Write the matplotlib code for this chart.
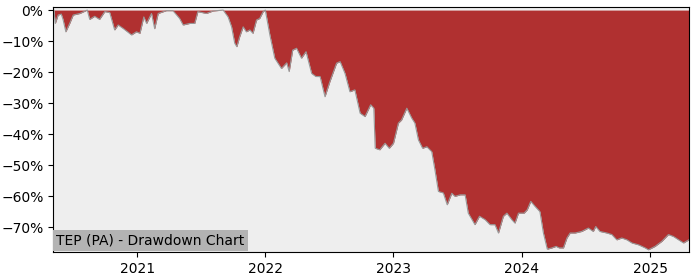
import matplotlib
matplotlib.use("Agg")
from matplotlib import pyplot as plt
from matplotlib.ticker import PercentFormatter
import matplotlib.dates as mdates
import numpy as np
import pandas as pd

# Drawdown (in %)
dates = [
    "2020-05-07", "2020-05-09", "2020-05-13", "2020-05-21", "2020-05-30", "2020-06-04",
    "2020-06-12", "2020-06-23", "2020-07-03", "2020-07-22", "2020-08-12", "2020-08-19",
    "2020-09-02", "2020-09-16", "2020-10-01", "2020-10-15", "2020-10-29", "2020-11-08",
    "2020-11-22", "2020-12-16", "2020-12-30", "2021-01-09", "2021-01-20", "2021-01-28",
    "2021-02-11", "2021-02-20", "2021-03-02", "2021-03-25", "2021-04-13", "2021-05-02",
    "2021-05-12", "2021-05-31", "2021-06-14", "2021-06-23", "2021-07-17", "2021-08-05",
    "2021-09-03", "2021-09-17", "2021-09-27", "2021-10-06", "2021-10-12", "2021-10-20",
    "2021-10-30", "2021-11-08", "2021-11-18", "2021-11-27", "2021-12-07", "2021-12-16",
    "2021-12-26", "2022-01-01", "2022-01-14", "2022-01-28", "2022-02-16", "2022-03-03",
    "2022-03-10", "2022-03-20", "2022-03-31", "2022-04-14", "2022-04-27", "2022-05-13",
    "2022-05-25", "2022-06-06", "2022-06-20", "2022-07-04", "2022-07-23", "2022-08-02",
    "2022-08-16", "2022-08-30", "2022-09-13", "2022-09-28", "2022-10-12", "2022-10-28",
    "2022-11-06", "2022-11-10", "2022-11-23", "2022-12-08", "2022-12-20", "2023-01-01",
    "2023-01-15", "2023-01-24", "2023-02-08", "2023-02-22", "2023-03-03", "2023-03-13",
    "2023-03-25", "2023-04-06", "2023-04-20", "2023-04-29", "2023-05-09", "2023-05-23",
    "2023-06-03", "2023-06-16", "2023-06-25", "2023-07-10", "2023-07-24", "2023-08-02",
    "2023-08-21", "2023-09-03", "2023-09-19", "2023-10-03", "2023-10-17", "2023-10-27",
    "2023-11-10", "2023-11-20", "2023-12-04", "2023-12-13", "2023-12-23", "2024-01-08",
    "2024-01-17", "2024-01-27", "2024-02-08", "2024-02-22", "2024-03-03", "2024-03-14",
    "2024-03-27", "2024-04-08", "2024-04-17", "2024-04-29", "2024-05-09", "2024-05-18",
    "2024-06-01", "2024-06-20", "2024-07-09", "2024-07-23", "2024-07-30", "2024-08-11",
    "2024-08-31", "2024-09-14", "2024-09-28", "2024-10-12", "2024-10-27", "2024-11-10",
    "2024-11-29", "2024-12-18", "2024-12-27", "2025-01-15", "2025-02-03", "2025-02-22",
    "2025-03-08", "2025-03-23", "2025-04-06", "2025-04-21",
]
drawdown = [
    0.0, 0.0, -4.3, -1.6, -1.3, -3.0,
    -7.0, -4.3, -1.6, -1.1, 0.0, -3.0,
    -2.0, -3.0, -0.5, -0.8, -6.4, -4.8,
    -5.9, -8.0, -7.0, -7.5, -2.2, -4.3,
    -1.1, -6.0, -1.1, -0.2, -0.2, -2.7,
    -4.8, -4.3, -4.3, -0.5, -1.1, -0.3,
    0.0, -2.2, -5.4, -10.7, -11.8, -8.6,
    -5.4, -7.0, -6.4, -7.5, -3.2, -2.7,
    -0.5, 0.0, -8.0, -15.5, -18.8, -17.0,
    -19.8, -12.9, -12.3, -15.5, -13.4, -20.4,
    -21.4, -21.4, -27.9, -23.0, -17.1, -16.6,
    -20.4, -26.3, -25.7, -33.2, -34.3, -30.5,
    -31.6, -44.5, -45.0, -42.9, -44.5, -42.9,
    -36.4, -35.4, -31.6, -34.8, -36.4, -41.8,
    -44.5, -44.0, -45.6, -51.4, -58.4, -58.9,
    -62.7, -59.0, -60.0, -59.5, -59.5, -65.4,
    -69.1, -66.4, -67.5, -69.1, -69.1, -71.8,
    -66.4, -65.4, -67.5, -68.6, -65.4, -65.4,
    -64.3, -61.6, -63.2, -64.9, -71.8, -77.0,
    -76.6, -76.1, -76.6, -76.6, -73.4, -71.8,
    -71.8, -71.3, -70.2, -71.3, -69.7, -71.3,
    -71.8, -72.3, -74.0, -73.4, -74.0, -75.0,
    -75.6, -76.6, -77.2, -76.1, -74.5, -72.3,
    -72.9, -74.0, -75.0, -74.0,
]
yticks = [0, -10, -20, -30, -40, -50, -60, -70]
title = "TEP (PA) - Drawdown Chart"

x = pd.to_datetime(dates)
y = np.array(drawdown)

fig = plt.figure(figsize=(7, 2.8), dpi=100)
ax = fig.add_axes([0.076, 0.099, 0.908, 0.875])
ax.set_facecolor("#eeeeee")

ax.fill_between(x, y, 0, color="#b03030", linewidth=0)
ax.plot(x, y, color="#999999", linewidth=0.8)

ax.set_xlim(x[0], x[-1])
ax.set_ylim(-78.0, 0.9)
ax.set_yticks(yticks)
ax.yaxis.set_major_formatter(PercentFormatter(100, decimals=0))
ax.xaxis.set_major_locator(mdates.YearLocator())
ax.xaxis.set_major_formatter(mdates.DateFormatter("%Y"))

ax.text(0.005, 0.018, title, transform=ax.transAxes, fontsize=10,
        va="bottom", ha="left",
        bbox=dict(facecolor="#b3b3b3", edgecolor="none", pad=2.5))

fig.savefig("out.png")
